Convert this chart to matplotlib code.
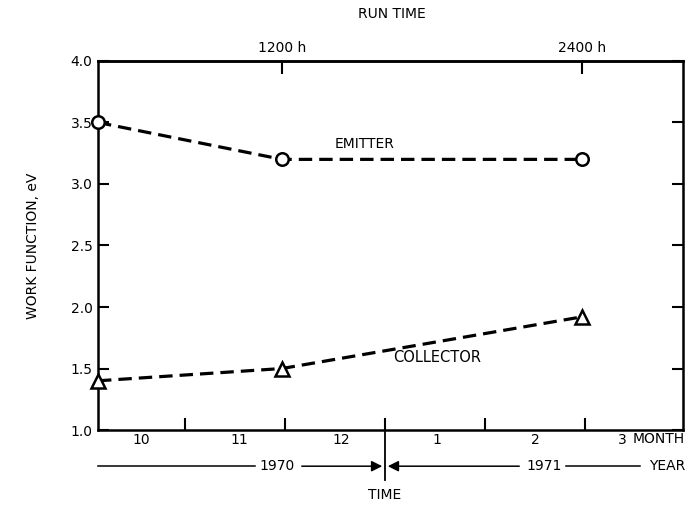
import matplotlib.pyplot as plt

plt.rcParams['font.family'] = ['DejaVu Sans']

# x is in months, 0 = 1 Jan 1971
emitter_x = [-2.87, -1.03, 1.97]
emitter_wf = [3.5, 3.2, 3.2]
collector_x = [-2.87, -1.03, 1.97]
collector_wf = [1.4, 1.5, 1.92]

month_ticks = [-2.0, -1.0, 0.0, 1.0, 2.0]
month_label_x = [-2.44, -1.46, -0.44, 0.52, 1.50, 2.37]
month_labels = ['10', '11', '12', '1', '2', '3']
runtime_x = [-1.03, 1.97]
runtime_labels = ['1200 h', '2400 h']
y_ticks = [1.0, 1.5, 2.0, 2.5, 3.0, 3.5, 4.0]

fig = plt.figure(figsize=(6.94, 5.08), dpi=100)
ax = fig.add_axes([0.1412, 0.1535, 0.843, 0.7265])
ax.set_xlim(-2.87, 2.98)
ax.set_ylim(1.0, 4.0)

dash = (0, (4.2, 2.2))
ax.plot(emitter_x, emitter_wf, color='black', lw=2.3, linestyle=dash,
        marker='o', ms=9, mfc='white', mec='black', mew=1.8, clip_on=False, zorder=3)
ax.plot(collector_x, collector_wf, color='black', lw=2.3, linestyle=dash,
        marker='^', ms=10, mfc='white', mec='black', mew=1.8, clip_on=False, zorder=3)

ax.text(-0.2, 3.27, 'EMITTER', fontsize=10, ha='center', va='bottom')
ax.text(0.52, 1.59, 'COLLECTOR', fontsize=10.5, ha='center', va='center')

for s in ax.spines.values():
    s.set_linewidth(1.8)

ax.set_yticks(y_ticks)
ax.set_yticklabels([f'{v:.1f}' for v in y_ticks], fontsize=10)
ax.tick_params(axis='y', direction='in', length=8, width=1.5, right=True, pad=4)
ax.set_ylabel('WORK FUNCTION, eV', fontsize=10, labelpad=22)

# bottom: month boundaries, labels sit between them
ax.set_xticks(month_ticks)
ax.set_xticklabels([])
ax.set_xticks(month_label_x, minor=True)
ax.set_xticklabels(month_labels, minor=True, fontsize=10)
ax.tick_params(axis='x', which='major', direction='in', length=9, width=1.5)
ax.tick_params(axis='x', which='minor', length=0, pad=2)
ax.text(3.0, -0.0055, 'MONTH', transform=ax.get_xaxis_transform(),
        fontsize=10, ha='right', va='top')

# top: run time
top = ax.secondary_xaxis('top')
top.set_xticks(runtime_x)
top.set_xticklabels(runtime_labels, fontsize=10)
top.tick_params(direction='in', length=9, width=1.5, pad=4)
top.spines['top'].set_linewidth(1.8)
fig.text(0.565, 0.972, 'RUN TIME', fontsize=10, ha='center', va='center')

# year row beneath the month labels
tr = ax.get_xaxis_transform()
yr = -0.098
ax.plot([-2.87, -1.3], [yr, yr], color='black', lw=1.1, transform=tr, clip_on=False)
ax.text(-1.08, yr, '1970', fontsize=10, ha='center', va='center', transform=tr)
ax.annotate('', xy=(0.0, yr), xytext=(-0.86, yr), xycoords=tr, textcoords=tr,
            arrowprops=dict(arrowstyle='-|>', color='black', lw=1.1, mutation_scale=16))
ax.annotate('', xy=(0.0, yr), xytext=(1.37, yr), xycoords=tr, textcoords=tr,
            arrowprops=dict(arrowstyle='-|>', color='black', lw=1.1, mutation_scale=16))
ax.text(1.59, yr, '1971', fontsize=10, ha='center', va='center', transform=tr)
ax.plot([1.81, 2.55], [yr, yr], color='black', lw=1.1, transform=tr, clip_on=False)
ax.text(3.0, yr, 'YEAR', fontsize=10, ha='right', va='center', transform=tr)
ax.plot([0.0, 0.0], [-0.005, -0.135], color='black', lw=1.3, transform=tr, clip_on=False)
ax.text(0.0, -0.175, 'TIME', fontsize=10, ha='center', va='center', transform=tr)

fig.savefig('out.png', dpi=100)
